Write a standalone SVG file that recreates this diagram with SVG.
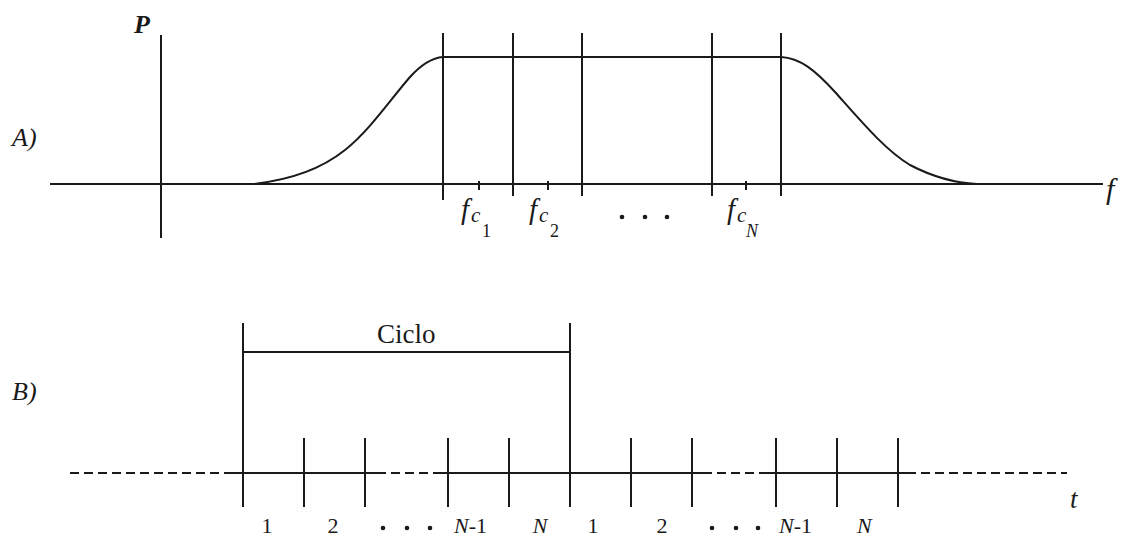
<svg xmlns="http://www.w3.org/2000/svg" width="1124" height="540" viewBox="0 0 1124 540">
<style>
.ln{stroke:#1a1a1a;stroke-width:2;fill:none}
.dash{stroke:#1a1a1a;stroke-width:2;fill:none;stroke-dasharray:9 5}
.t{font-family:"Liberation Serif","DejaVu Serif",serif;fill:#1a1a1a}
.i{font-style:italic}
.dot{fill:#1a1a1a}
</style>
<rect width="1124" height="540" fill="#fff"/>
<g id="partA">
  <line class="ln" x1="161" y1="35" x2="161" y2="238"/>
  <line class="ln" x1="50" y1="184" x2="1103" y2="184"/>
  <path class="ln" d="M253,184 C290,180 320,170 345,150 C370,130 390,100 410,77 C420,66 430,58 443,57 L781,57 C800,58 815,70 835,92 C860,120 885,150 910,165 C935,178 955,183 977,184"/>
  <g id="bands">
    <line class="ln" x1="443" y1="33" x2="443" y2="200"/>
    <line class="ln" x1="513" y1="33" x2="513" y2="196"/>
    <line class="ln" x1="582" y1="33" x2="582" y2="196"/>
    <line class="ln" x1="712" y1="33" x2="712" y2="196"/>
    <line class="ln" x1="781" y1="33" x2="781" y2="196"/>
  </g>
  <g id="ticksA">
    <line class="ln" x1="479" y1="181" x2="479" y2="190"/>
    <line class="ln" x1="548" y1="181" x2="548" y2="190"/>
    <line class="ln" x1="746" y1="181" x2="746" y2="190"/>
  </g>
  <text class="t i" x="134" y="33" font-size="26" font-weight="bold">P</text>
  <text class="t i" x="12" y="146" font-size="26">A)</text>
  <text class="t i" x="1106" y="199" font-size="30">f</text>
  <g id="fc1"><text class="t i" x="461" y="219" font-size="29">f</text><text class="t i" x="471" y="222" font-size="21">c</text><text class="t" x="482" y="237" font-size="18">1</text></g>
  <g id="fc2"><text class="t i" x="529" y="219" font-size="29">f</text><text class="t i" x="539" y="222" font-size="21">c</text><text class="t" x="550" y="237" font-size="18">2</text></g>
  <g id="fcN"><text class="t i" x="727" y="219" font-size="29">f</text><text class="t i" x="737" y="222" font-size="21">c</text><text class="t i" x="746" y="237" font-size="18">N</text></g>
  <circle class="dot" cx="622" cy="217" r="2.3"/>
  <circle class="dot" cx="645" cy="217" r="2.3"/>
  <circle class="dot" cx="667" cy="217" r="2.3"/>
</g>
<g id="partB">
  <text class="t i" x="12" y="400" font-size="26">B)</text>
  <g id="ciclo">
    <line class="ln" x1="243" y1="323" x2="243" y2="507"/>
    <line class="ln" x1="570" y1="323" x2="570" y2="507"/>
    <line class="ln" x1="243" y1="352" x2="570" y2="352"/>
    <text class="t" x="377" y="343" font-size="27">Ciclo</text>
  </g>
  <g id="axisB">
    <line class="dash" x1="70" y1="473" x2="227" y2="473"/>
    <line class="ln" x1="227" y1="473" x2="377" y2="473"/>
    <line class="dash" x1="377" y1="473" x2="437" y2="473"/>
    <line class="ln" x1="437" y1="473" x2="703" y2="473"/>
    <line class="dash" x1="703" y1="473" x2="763" y2="473"/>
    <line class="ln" x1="763" y1="473" x2="907" y2="473"/>
    <line class="dash" x1="907" y1="473" x2="1067" y2="473"/>
  </g>
  <g id="ticksB">
    <line class="ln" x1="304" y1="438" x2="304" y2="507"/>
    <line class="ln" x1="365" y1="438" x2="365" y2="507"/>
    <line class="ln" x1="448" y1="438" x2="448" y2="507"/>
    <line class="ln" x1="509" y1="438" x2="509" y2="507"/>
    <line class="ln" x1="631" y1="438" x2="631" y2="507"/>
    <line class="ln" x1="692" y1="438" x2="692" y2="507"/>
    <line class="ln" x1="776" y1="438" x2="776" y2="507"/>
    <line class="ln" x1="837" y1="438" x2="837" y2="507"/>
    <line class="ln" x1="898" y1="438" x2="898" y2="507"/>
  </g>
  <text class="t i" x="1070" y="508" font-size="27">t</text>
  <g id="labelsB" font-size="22">
    <text class="t" x="267" y="533" text-anchor="middle">1</text>
    <text class="t" x="333" y="533" text-anchor="middle">2</text>
    <circle class="dot" cx="383" cy="528" r="2.3"/>
    <circle class="dot" cx="407" cy="528" r="2.3"/>
    <circle class="dot" cx="430" cy="528" r="2.3"/>
    <text class="t" x="454" y="533"><tspan class="i">N</tspan>-1</text>
    <text class="t i" x="540" y="533" text-anchor="middle">N</text>
    <text class="t" x="593" y="533" text-anchor="middle">1</text>
    <text class="t" x="662" y="533" text-anchor="middle">2</text>
    <circle class="dot" cx="712" cy="528" r="2.3"/>
    <circle class="dot" cx="736" cy="528" r="2.3"/>
    <circle class="dot" cx="758" cy="528" r="2.3"/>
    <text class="t" x="779" y="533"><tspan class="i">N</tspan>-1</text>
    <text class="t i" x="857" y="533">N</text>
  </g>
</g>
</svg>
